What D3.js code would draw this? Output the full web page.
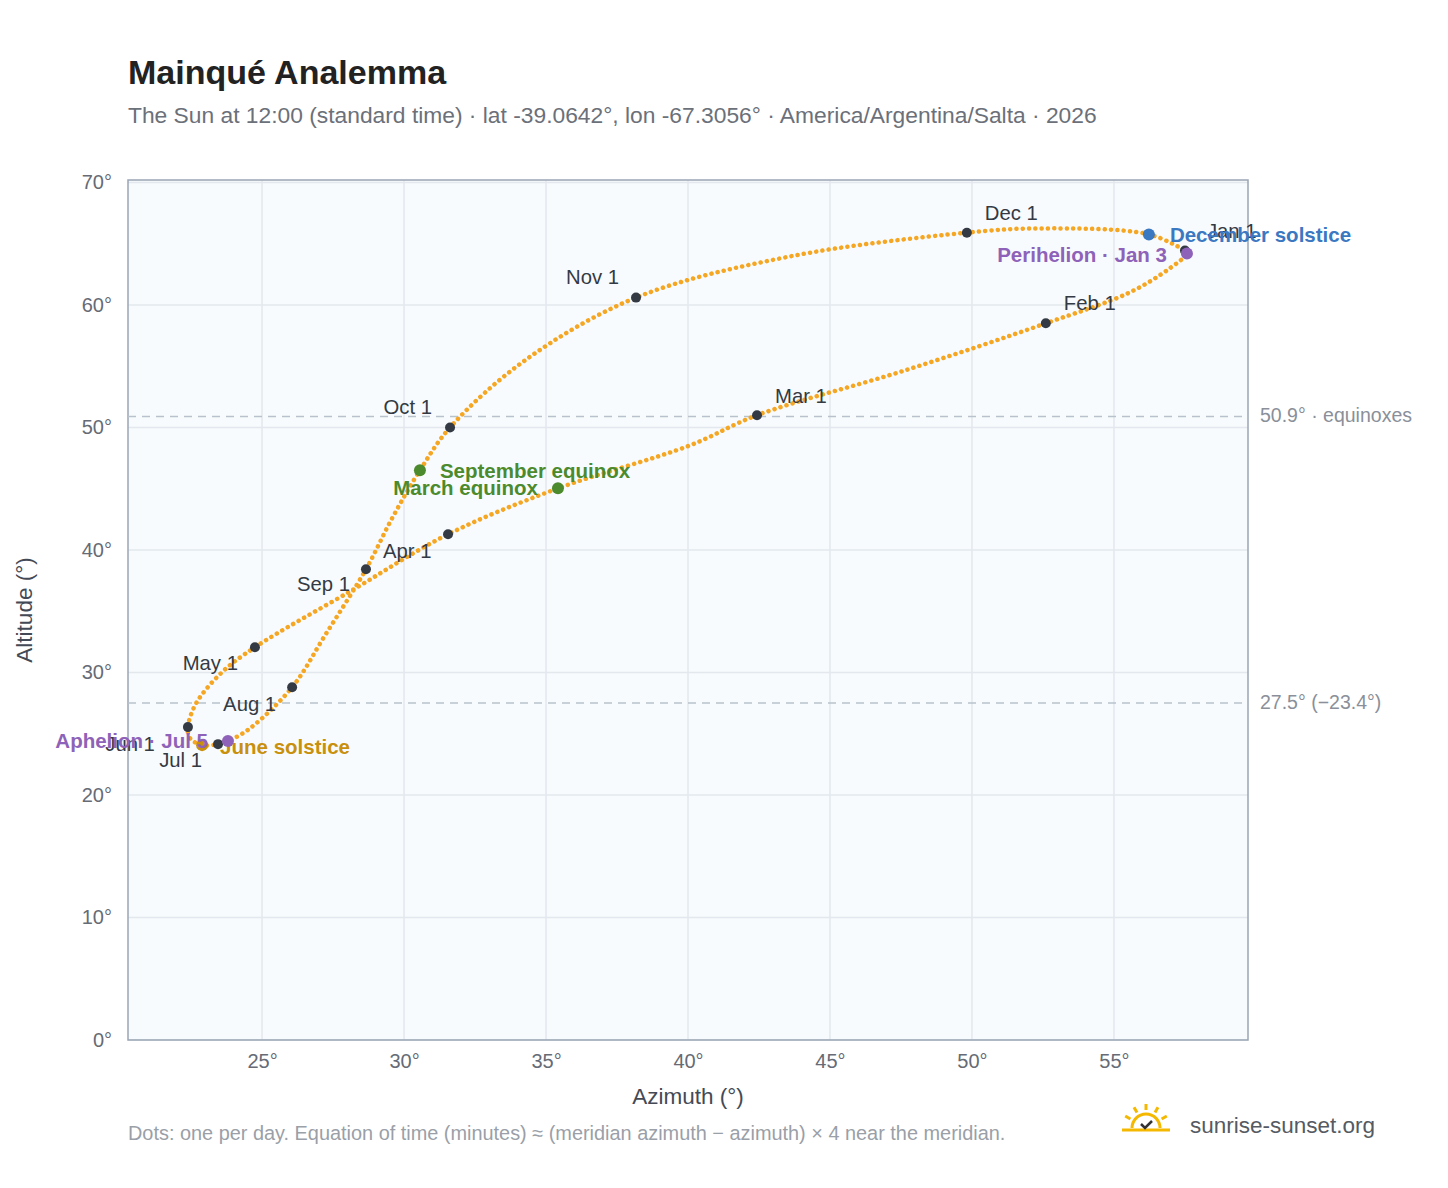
<!DOCTYPE html>
<html><head><meta charset="utf-8">
<script src="https://cdn.jsdelivr.net/npm/d3@7/dist/d3.min.js"></script>
<style>body{margin:0;background:#fff;font-family:"Liberation Sans",Arial,sans-serif}</style>
</head><body><svg id="c" width="1448" height="1188"></svg>
<script>
// Read-off points of the analemma (date, azimuth °, altitude °)
const dates = ["Jan 1","Jan 3","Jan 8","Jan 15","Feb 1","Feb 15","Mar 1","Mar 10","Mar 20","Apr 1","Apr 15","May 1","May 10","May 20","Jun 1","Jun 10","Jun 21","Jul 1","Jul 5","Jul 15","Aug 1","Aug 15","Sep 1","Sep 10","Sep 22","Oct 1","Oct 15","Nov 1","Nov 15","Dec 1","Dec 10","Dec 21","Jan 1"];
const azimuth = [57.5,57.57,56.97,55.56,52.6,47.64,42.43,40.07,35.42,31.55,28.17,24.75,23.59,22.68,22.39,22.46,22.89,23.45,23.8,24.58,26.06,27.22,28.66,29.58,30.56,31.62,34.26,38.17,43.59,49.82,52.39,56.23,57.5];
const altitude = [64.45,64.2,63.0,61.03,58.5,54.66,51.0,48.54,45.03,41.28,36.71,32.06,30.02,27.49,25.54,24.64,24.07,24.15,24.4,25.45,28.8,33.04,38.43,42.59,46.5,50.0,55.48,60.6,63.96,65.9,66.25,65.76,64.45];
const monthLabels = ["Jan 1","Feb 1","Mar 1","Apr 1","May 1","Jun 1","Jul 1","Aug 1","Sep 1","Oct 1","Nov 1","Dec 1"];
const events = [
 {name:"December solstice", date:"Dec 21", color:"#3b78c2"},
 {name:"Perihelion · Jan 3", date:"Jan 3", color:"#8e62b8"},
 {name:"March equinox", date:"Mar 20", color:"#4c8a2e"},
 {name:"September equinox", date:"Sep 22", color:"#4c8a2e"},
 {name:"June solstice", date:"Jun 21", color:"#c8900c"},
 {name:"Aphelion · Jul 5", date:"Jul 5", color:"#8e62b8"}
];
const refLines = [{v:50.9,label:"50.9° · equinoxes"},{v:27.5,label:"27.5° (−23.4°)"}];
const xTicks = [25,30,35,40,45,50,55];
const yTicks = [0,10,20,30,40,50,60,70];

// layout / style
const labOff = {"Jan 1":[22,-12,"start"],"Feb 1":[18,-13,"start"],"Mar 1":[18,-12,"start"],"Apr 1":[-65,24,"start"],"May 1":[-17,23,"end"],"Jun 1":[-33,24,"end"],"Jul 1":[-16,23,"end"],"Aug 1":[-16,24,"end"],"Sep 1":[-16,22,"end"],"Oct 1":[-18,-13,"end"],"Nov 1":[-17,-14,"end"],"Dec 1":[18,-13,"start"]};
const evOff = {"December solstice":[21,8,"start"],"Perihelion · Jan 3":[-20,8,"end"],"March equinox":[-20,7,"end"],"September equinox":[20,8,"start"],"June solstice":[18,9,"start"],"Aphelion · Jul 5":[-20,7,"end"]};

const svg = d3.select("#c");
const L=128,R=1248,T=180,B=1040;
const x = d3.scaleLinear().domain([20.28,59.72]).range([L,R]);
const y = d3.scaleLinear().domain([0,70.2]).range([B,T]);
const pt = d => { const i=dates.indexOf(d); return [x(azimuth[i]),y(altitude[i])]; };

svg.append("rect").attr("x",L).attr("y",T).attr("width",R-L).attr("height",B-T).attr("fill","#f8fbfd");
const g=svg.append("g");
xTicks.forEach(t=>g.append("line").attr("x1",x(t)).attr("x2",x(t)).attr("y1",T).attr("y2",B).attr("stroke","#e3e8ee").attr("stroke-width",1.5));
yTicks.forEach(t=>g.append("line").attr("x1",L).attr("x2",R).attr("y1",y(t)).attr("y2",y(t)).attr("stroke","#e3e8ee").attr("stroke-width",1.5));
svg.append("rect").attr("x",L).attr("y",T).attr("width",R-L).attr("height",B-T).attr("fill","none").attr("stroke","#9aa5b5").attr("stroke-width",1.5);

refLines.forEach(r=>{
 svg.append("line").attr("x1",L).attr("x2",R).attr("y1",y(r.v)).attr("y2",y(r.v)).attr("stroke","#b8c2cc").attr("stroke-width",1.5).attr("stroke-dasharray","8,6");
 svg.append("text").attr("x",R+12).attr("y",y(r.v)+6).attr("font-size",19.5).attr("fill","#8a8f99").text(r.label);
});

const xa=svg.append("g").attr("transform",`translate(0,${B})`).call(d3.axisBottom(x).tickValues(xTicks).tickFormat(d=>d+"°").tickSize(0).tickPadding(14));
const ya=svg.append("g").attr("transform",`translate(${L},0)`).call(d3.axisLeft(y).tickValues(yTicks).tickFormat(d=>d+"°").tickSize(0).tickPadding(16));
[xa,ya].forEach(a=>{a.select(".domain").remove();a.selectAll("text").attr("font-size",20).attr("fill","#666b75").attr("font-family","Liberation Sans, Arial");});

const line=d3.line().x((d,i)=>x(azimuth[i])).y((d,i)=>y(altitude[i])).curve(d3.curveCatmullRom.alpha(0.5));
svg.append("path").attr("d",line(dates)).attr("fill","none").attr("stroke","#f5a623").attr("stroke-width",4.5).attr("stroke-linecap","round").attr("stroke-dasharray","0.1,6.2");

monthLabels.forEach(m=>{
 const [px,py]=pt(m), o=labOff[m];
 svg.append("circle").attr("cx",px).attr("cy",py).attr("r",5).attr("fill","#343a44");
 svg.append("text").attr("x",px+o[0]).attr("y",py+o[1]).attr("text-anchor",o[2]).attr("font-size",20.3).attr("fill","#333a44").text(m);
});
events.forEach(e=>{
 const [px,py]=pt(e.date), o=evOff[e.name];
 svg.append("circle").attr("cx",px).attr("cy",py).attr("r",6).attr("fill",e.color);
 svg.append("text").attr("x",px+o[0]).attr("y",py+o[1]).attr("text-anchor",o[2]).attr("font-size",20.5).attr("font-weight","bold").attr("fill",e.color).text(e.name);
});

svg.append("text").attr("x",128).attr("y",84).attr("font-size",34).attr("font-weight","bold").attr("fill","#222").text("Mainqué Analemma");
svg.append("text").attr("x",128).attr("y",123).attr("font-size",22.8).attr("fill","#6b7079").text("The Sun at 12:00 (standard time) · lat -39.0642°, lon -67.3056° · America/Argentina/Salta · 2026");
svg.append("text").attr("x",(L+R)/2).attr("y",1104).attr("text-anchor","middle").attr("font-size",22.5).attr("fill","#444a55").text("Azimuth (°)");
svg.append("text").attr("transform",`translate(32,${(T+B)/2}) rotate(-90)`).attr("text-anchor","middle").attr("font-size",22.5).attr("fill","#444a55").text("Altitude (°)");
svg.append("text").attr("x",128).attr("y",1140).attr("font-size",19.9).attr("fill","#9a9fa8").text("Dots: one per day. Equation of time (minutes) ≈ (meridian azimuth − azimuth) × 4 near the meridian.");
// logo
const lg=svg.append("g").attr("transform","translate(1146,1128)");
lg.append("path").attr("d","M-14,0 A14,14 0 0 1 14,0").attr("fill","none").attr("stroke","#f5b800").attr("stroke-width",3);
[-60,-30,0,30,60].forEach(a=>{const r=a*Math.PI/180;lg.append("line").attr("x1",Math.sin(r)*18).attr("y1",-Math.cos(r)*18).attr("x2",Math.sin(r)*24).attr("y2",-Math.cos(r)*24).attr("stroke","#f5b800").attr("stroke-width",3);});
lg.append("line").attr("x1",-24).attr("x2",24).attr("y1",2).attr("y2",2).attr("stroke","#f5b800").attr("stroke-width",3);
lg.append("path").attr("d","M-5,-4 L-1,0 L6,-7").attr("fill","none").attr("stroke","#333").attr("stroke-width",2.5);
svg.append("text").attr("x",1190).attr("y",1133).attr("font-size",22.5).attr("fill","#555a63").text("sunrise-sunset.org");
</script></body></html>
